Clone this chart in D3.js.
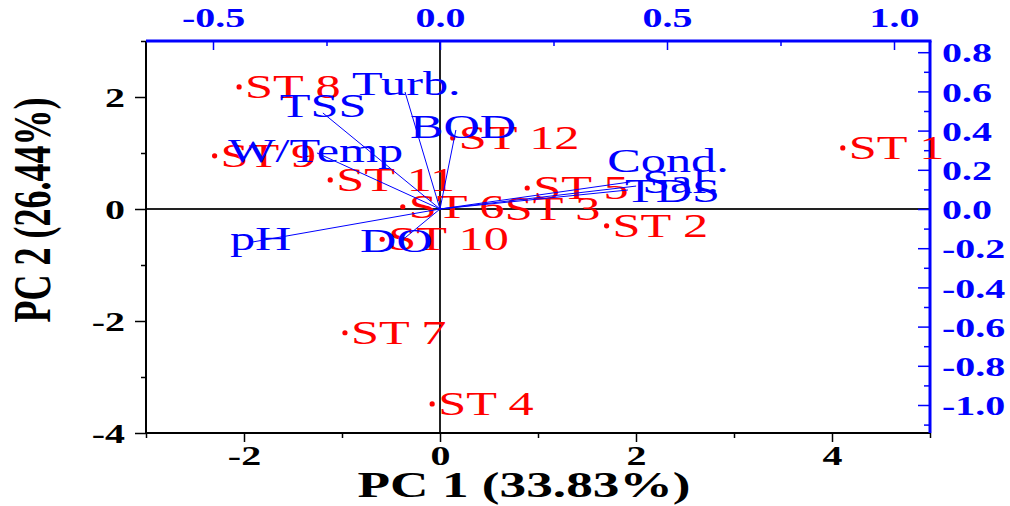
<!DOCTYPE html>
<html>
<head>
<meta charset="utf-8">
<script src="https://cdn.jsdelivr.net/npm/d3@7"></script>
<style>
  body { margin: 0; background: #fff; }
  text { font-family: "Liberation Serif", "Times New Roman", serif; }
</style>
</head>
<body>
<div id="chart"></div>
<script>
// station scores (PC1, PC2)
var stations = ["ST 1", "ST 2", "ST 3", "ST 4", "ST 5", "ST 6", "ST 7", "ST 8", "ST 9", "ST 10", "ST 11", "ST 12"];
var pc1Scores = [4.11, 1.70, 0.60, -0.08, 0.89, -0.38, -0.97, -2.05, -2.30, -0.59, -1.12, 0.13];
var pc2Scores = [1.09, -0.30, 0.00, -3.48, 0.375, 0.04, -2.21, 2.18, 0.95, -0.54, 0.52, 1.27];

// variable loadings (PC1, PC2)
var variables = ["Turb.", "TSS", "BOD", "W/Temp", "pH", "DO", "Cond.", "Sal.", "TDS"];
var pc1Loadings = [-0.077, -0.258, 0.035, -0.271, -0.412, -0.088, 0.419, 0.432, 0.414];
var pc2Loadings = [0.597, 0.490, 0.403, 0.286, -0.168, -0.168, 0.138, 0.117, 0.097];

// tick labels
var scoreXTicks = [-2, 0, 2, 4];
var scoreYTicks = [-4, -2, 0, 2];
var loadXTicks = [-0.5, 0.0, 0.5, 1.0];
var loadYTicks = [-1.0, -0.8, -0.6, -0.4, -0.2, 0.0, 0.2, 0.4, 0.6, 0.8];

var width = 1010, height = 506;
var m = { left: 146, right: 930, top: 41, bottom: 433 };
var SX = 1.48; // text in the original is stretched sideways
var blue = "#0000ff", red = "#ff0000";
var tickFont = 27;

var x = d3.scaleLinear().domain([-3, 5]).range([m.left, m.right]);
var y = d3.scaleLinear().domain([-4, 3]).range([m.bottom, m.top]);
// loading axes share the origin with the score axes
var kx = 98 / 454, ky = 56 / 196;
var xL = d3.scaleLinear().domain([-3 * kx, 5 * kx]).range([m.left, m.right]);
var yL = d3.scaleLinear().domain([-4 * ky, 3 * ky]).range([m.bottom, m.top]);

// where each blue label sits relative to the arrow tip (px)
var labelShift = {
  "Turb.": [-53, 3], "TSS": [-43, 4], "BOD": [-46, 8], "W/Temp": [-89, 9],
  "pH": [-23, 8], "DO": [-40, 10], "Cond.": [-23, -10], "Sal.": [6, 7], "TDS": [-3, 12]
};

var svg = d3.select("#chart").append("svg")
  .attr("width", width)
  .attr("height", height);

var fmt = function(v) { return d3.format(".1f")(v).replace("\u2212", "-"); };
var fmtInt = function(v) { return String(v); };

// each call gets its own group so ticks don't get rebound
function axisLayer(axis, tx, ty, color) {
  var g = svg.append("g").attr("transform", "translate(" + tx + "," + ty + ")").call(axis);
  g.selectAll("path.domain").remove();
  g.selectAll("line").attr("stroke", color).attr("stroke-width", 1.5);
  g.selectAll("text")
    .attr("fill", color)
    .attr("font-size", tickFont)
    .attr("font-weight", "bold");
  return g;
}

function stretchText(g) {
  g.selectAll("text").each(function() {
    var t = d3.select(this);
    var xx = +t.attr("x") || 0;
    t.attr("x", xx / SX).attr("transform", "scale(" + SX + ",1)");
  });
}

// zero lines
svg.append("line")
  .attr("x1", x(0)).attr("x2", x(0)).attr("y1", m.top).attr("y2", m.bottom)
  .attr("stroke", "#222").attr("stroke-width", 2);
svg.append("line")
  .attr("x1", m.left).attr("x2", m.right).attr("y1", y(0)).attr("y2", y(0))
  .attr("stroke", "#222").attr("stroke-width", 2);

// bottom axis
axisLayer(d3.axisBottom(x).tickValues([-3, -1, 1, 3, 5]).tickSize(5).tickFormat(""), 0, m.bottom, "#000");
var gb = axisLayer(d3.axisBottom(x).tickValues(scoreXTicks).tickSize(9).tickFormat(fmtInt), 0, m.bottom, "#000");
gb.selectAll("text").attr("y", 32).attr("dy", 0);
stretchText(gb);

// left axis
axisLayer(d3.axisLeft(y).tickValues([-3, -1, 1, 3]).tickSize(5).tickFormat(""), m.left, 0, "#000");
var gl = axisLayer(d3.axisLeft(y).tickValues(scoreYTicks).tickSize(11).tickFormat(fmtInt), m.left, 0, "#000");
gl.selectAll("text").attr("x", -21).attr("dy", "0.36em");
stretchText(gl);

// top axis (loadings), ticks point inward
axisLayer(d3.axisBottom(xL).tickValues([-0.25, 0.25, 0.75]).tickSize(5).tickFormat(""), 0, m.top, blue);
axisLayer(d3.axisBottom(xL).tickValues(loadXTicks).tickSize(9).tickFormat(""), 0, m.top, blue);
var gt = axisLayer(d3.axisTop(xL).tickValues(loadXTicks).tickSize(0).tickFormat(fmt), 0, m.top, blue);
gt.selectAll("text").attr("y", -14).attr("dy", 0);
stretchText(gt);

// right axis (loadings), ticks point inward
axisLayer(d3.axisLeft(yL).tickValues([-1.1, -0.9, -0.7, -0.5, -0.3, -0.1, 0.1, 0.3, 0.5, 0.7]).tickSize(6).tickFormat(""), m.right, 0, blue);
axisLayer(d3.axisLeft(yL).tickValues(loadYTicks).tickSize(12).tickFormat(""), m.right, 0, blue);
var gr = axisLayer(d3.axisRight(yL).tickValues(loadYTicks).tickSize(0).tickFormat(fmt), m.right, 0, blue);
gr.selectAll("text").attr("x", 12).attr("dy", "0.36em");
stretchText(gr);

// frame lines
svg.append("line").attr("x1", m.left).attr("x2", m.left).attr("y1", m.top).attr("y2", m.bottom + 1)
  .attr("stroke", "#000").attr("stroke-width", 2);
svg.append("line").attr("x1", m.left - 1).attr("x2", m.right).attr("y1", m.bottom).attr("y2", m.bottom)
  .attr("stroke", "#000").attr("stroke-width", 2);
svg.append("line").attr("x1", m.left).attr("x2", m.right + 1.5).attr("y1", m.top).attr("y2", m.top)
  .attr("stroke", blue).attr("stroke-width", 3);
svg.append("line").attr("x1", m.right).attr("x2", m.right).attr("y1", m.top).attr("y2", m.bottom)
  .attr("stroke", blue).attr("stroke-width", 3);

// station scores
var scores = stations.map(function(s, i) { return { name: s, pc1: pc1Scores[i], pc2: pc2Scores[i] }; });
var sg = svg.append("g").selectAll("g")
  .data(scores)
  .enter().append("g")
  .attr("transform", function(d) { return "translate(" + x(d.pc1) + "," + y(d.pc2) + ")"; });

sg.append("circle").attr("r", 2.6).attr("fill", red);
sg.append("text")
  .attr("transform", "translate(6,11) scale(" + SX + ",1)")
  .attr("font-size", 34)
  .attr("fill", red)
  .text(function(d) { return d.name; });

// loading vectors
var loads = variables.map(function(v, i) { return { name: v, pc1: pc1Loadings[i], pc2: pc2Loadings[i] }; });
svg.append("g").selectAll("line")
  .data(loads)
  .enter().append("line")
  .attr("x1", xL(0)).attr("y1", yL(0))
  .attr("x2", function(d) { return xL(d.pc1); })
  .attr("y2", function(d) { return yL(d.pc2); })
  .attr("stroke", blue)
  .attr("stroke-width", 1);

svg.append("g").selectAll("text")
  .data(loads)
  .enter().append("text")
  .attr("transform", function(d) {
    var s = labelShift[d.name];
    return "translate(" + (xL(d.pc1) + s[0]) + "," + (yL(d.pc2) + s[1]) + ") scale(" + SX + ",1)";
  })
  .attr("font-size", 34)
  .attr("fill", blue)
  .text(function(d) { return d.name; });

// axis titles
svg.append("text")
  .attr("transform", "translate(524,497) scale(" + SX + ",1)")
  .attr("text-anchor", "middle")
  .attr("font-size", 36)
  .attr("font-weight", "bold")
  .text("PC 1 (33.83%)");

svg.append("text")
  .attr("transform", "translate(50,210) scale(" + SX + ",1) rotate(-90)")
  .attr("text-anchor", "middle")
  .attr("font-size", 36)
  .attr("font-weight", "bold")
  .text("PC 2 (26.44%)");
</script>
</body>
</html>
